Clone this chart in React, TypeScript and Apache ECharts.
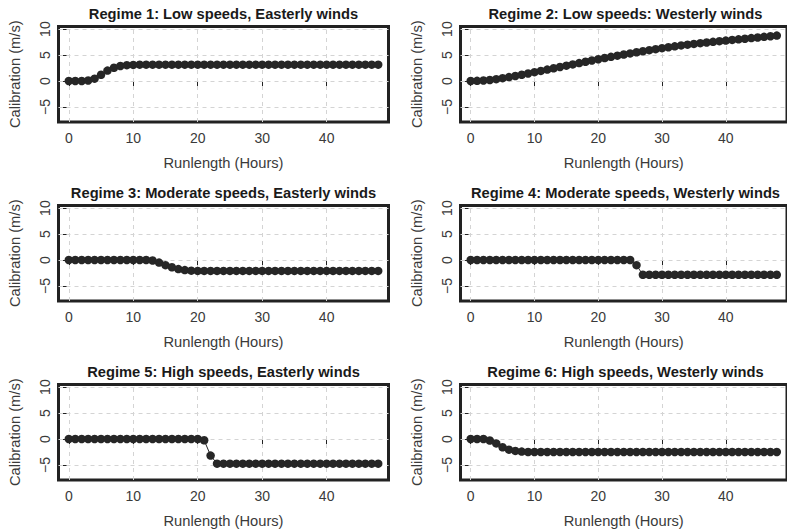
import React, { useEffect, useRef } from "react";
import * as echarts from "echarts";

const hours = [0, 1, 2, 3, 4, 5, 6, 7, 8, 9, 10, 11, 12, 13, 14, 15, 16, 17, 18, 19, 20, 21, 22, 23, 24, 25, 26, 27, 28, 29, 30, 31, 32, 33, 34, 35, 36, 37, 38, 39, 40, 41, 42, 43, 44, 45, 46, 47, 48];

const xTicks = [0, 10, 20, 30, 40];
const yTicks = [-5, 0, 5, 10];

const titles = [
  "Regime 1: Low speeds, Easterly winds",
  "Regime 2: Low speeds: Westerly winds",
  "Regime 3: Moderate speeds, Easterly winds",
  "Regime 4: Moderate speeds, Westerly winds",
  "Regime 5: High speeds, Easterly winds",
  "Regime 6: High speeds, Westerly winds",
];

const regime1 = [
  0, 0, 0, 0.1, 0.45, 1.2, 2.0, 2.55, 2.9, 3.05,
  3.1, 3.15, 3.15, 3.15, 3.15, 3.15, 3.15, 3.15, 3.15, 3.15,
  3.15, 3.15, 3.15, 3.15, 3.15, 3.15, 3.15, 3.15, 3.15, 3.15,
  3.15, 3.15, 3.15, 3.15, 3.15, 3.15, 3.15, 3.15, 3.15, 3.15,
  3.15, 3.15, 3.15, 3.15, 3.15, 3.15, 3.15, 3.15, 3.15,
];

const regime2 = [
  0, 0.03, 0.1, 0.2, 0.35, 0.55, 0.75, 0.97, 1.2, 1.45,
  1.7, 1.95, 2.2, 2.45, 2.7, 2.95, 3.2, 3.45, 3.7, 3.95,
  4.2, 4.43, 4.66, 4.88, 5.1, 5.32, 5.53, 5.74, 5.94, 6.14,
  6.33, 6.51, 6.68, 6.85, 7.0, 7.15, 7.29, 7.42, 7.55, 7.67,
  7.79, 7.91, 8.03, 8.15, 8.27, 8.39, 8.51, 8.63, 8.75,
];

const regime3 = [
  0, 0, 0, 0, 0, 0, 0, 0, 0, 0,
  0, 0, 0, -0.1, -0.5, -1.0, -1.4, -1.75, -1.95, -2.05,
  -2.1, -2.1, -2.1, -2.1, -2.1, -2.1, -2.1, -2.1, -2.1, -2.1,
  -2.1, -2.1, -2.1, -2.1, -2.1, -2.1, -2.1, -2.1, -2.1, -2.1,
  -2.1, -2.1, -2.1, -2.1, -2.1, -2.1, -2.1, -2.1, -2.1,
];

const regime4 = [
  0, 0, 0, 0, 0, 0, 0, 0, 0, 0,
  0, 0, 0, 0, 0, 0, 0, 0, 0, 0,
  0, 0, 0, 0, 0, 0, -1.0, -2.85, -2.85, -2.85,
  -2.85, -2.85, -2.85, -2.85, -2.85, -2.85, -2.85, -2.85, -2.85, -2.85,
  -2.85, -2.85, -2.85, -2.85, -2.85, -2.85, -2.85, -2.85, -2.85,
];

const regime5 = [
  0, 0, 0, 0, 0, 0, 0, 0, 0, 0,
  0, 0, 0, 0, 0, 0, 0, 0, 0, 0,
  0, -0.25, -3.2, -4.75, -4.75, -4.75, -4.75, -4.75, -4.75, -4.75,
  -4.75, -4.75, -4.75, -4.75, -4.75, -4.75, -4.75, -4.75, -4.75, -4.75,
  -4.75, -4.75, -4.75, -4.75, -4.75, -4.75, -4.75, -4.75, -4.75,
];

const regime6 = [
  0, 0, 0, -0.3, -0.85, -1.6, -2.05, -2.3, -2.42, -2.5,
  -2.5, -2.5, -2.5, -2.5, -2.5, -2.5, -2.5, -2.5, -2.5, -2.5,
  -2.5, -2.5, -2.5, -2.5, -2.5, -2.5, -2.5, -2.5, -2.5, -2.5,
  -2.5, -2.5, -2.5, -2.5, -2.5, -2.5, -2.5, -2.5, -2.5, -2.5,
  -2.5, -2.5, -2.5, -2.5, -2.5, -2.5, -2.5, -2.5, -2.5,
];

const regimes = [regime1, regime2, regime3, regime4, regime5, regime6];

const FONT = "'Liberation Sans', Arial, Helvetica, sans-serif";
const INK = "#262626";
const LABEL = "#3a3a3a";

const gridLefts = [58.5, 460.5];
const gridTops = [26.5, 205.5, 384.5];
const gridW = 330;
const gridH = 95.5;

export default function App() {
  const ref = useRef<HTMLDivElement>(null);

  useEffect(() => {
    if (!ref.current) return;
    const chart = echarts.init(ref.current, undefined, { renderer: "svg" });

    const grids: any[] = [];
    const xAxes: any[] = [];
    const yAxes: any[] = [];
    const series: any[] = [];
    const graphics: any[] = [];

    regimes.forEach((vals, i) => {
      const col = i % 2;
      const row = Math.floor(i / 2);
      const left = gridLefts[col];
      const top = gridTops[row];
      grids.push({
        left,
        top,
        width: gridW,
        height: gridH,
        show: true,
        borderColor: "#222",
        borderWidth: 3,
        backgroundColor: "transparent",
        containLabel: false,
      });
      xAxes.push({
        type: "value",
        gridIndex: i,
        min: -1.6,
        max: 49.6,
        name: "Runlength (Hours)",
        nameLocation: "middle",
        nameGap: 33,
        nameTextStyle: { fontFamily: FONT, fontSize: 14.7, color: LABEL },
        axisLine: { show: false },
        axisTick: {
          show: true,
          length: 6,
          customValues: xTicks,
          lineStyle: { color: "#222", width: 1 },
        },
        axisLabel: {
          customValues: xTicks,
          margin: 9,
          fontFamily: FONT,
          fontSize: 14,
          color: LABEL,
        },
        splitLine: { show: false },
      });
      yAxes.push({
        type: "value",
        gridIndex: i,
        min: -7.9,
        max: 10.5,
        name: "Calibration (m/s)",
        nameLocation: "middle",
        nameGap: 36,
        nameTextStyle: { fontFamily: FONT, fontSize: 14.7, color: LABEL },
        axisLine: { show: false },
        axisTick: {
          show: true,
          length: 6,
          customValues: yTicks,
          lineStyle: { color: "#222", width: 1 },
        },
        axisLabel: {
          customValues: yTicks,
          rotate: 90,
          margin: 7,
          fontFamily: FONT,
          fontSize: 14,
          color: LABEL,
          formatter: (v: number) => (v < 0 ? "\u2212" + Math.abs(v) : String(v)),
        },
        splitLine: { show: false },
      });
      series.push({
        type: "line",
        xAxisIndex: i,
        yAxisIndex: i,
        data: hours.map((h, k) => [h, vals[k]]),
        symbol: "circle",
        symbolSize: 8.5,
        showSymbol: true,
        itemStyle: { color: INK },
        lineStyle: { color: INK, width: 1 },
        z: 3,
        silent: true,
        markLine: {
          silent: true,
          z: 1,
          symbol: ["none", "none"],
          label: { show: false },
          lineStyle: { color: "#d4d4d4", width: 1, type: [4, 4] },
          data: [
            ...xTicks.map((v) => ({ xAxis: v })),
            ...yTicks.map((v) => ({ yAxis: v })),
          ],
        },
      });
      graphics.push({
        type: "text",
        x: left + gridW / 2,
        y: top - 12.5,
        style: {
          text: titles[i],
          font: `bold 14.7px ${FONT}`,
          fill: "#1a1a1a",
          align: "center",
          verticalAlign: "middle",
        },
      });
    });

    chart.setOption({
      animation: false,
      backgroundColor: "#ffffff",
      grid: grids,
      xAxis: xAxes,
      yAxis: yAxes,
      series,
      graphic: graphics,
    });

    return () => {
      chart.dispose();
    };
  }, []);

  return (
    <div
      ref={ref}
      style={{ position: "absolute", left: 0, top: 0, width: 787, height: 531 }}
    />
  );
}
